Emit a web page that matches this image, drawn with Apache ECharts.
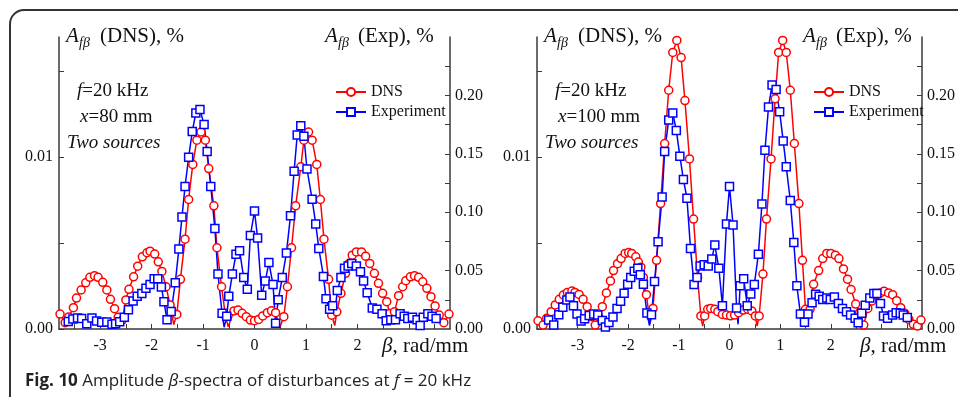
<!DOCTYPE html>
<html>
<head>
<meta charset="utf-8">
<script src="https://cdn.jsdelivr.net/npm/echarts@6/dist/echarts.min.js"></script>
<style>
html, body { margin: 0; padding: 0; background: #fff; }
#block1 { width: 958px; height: 397px; }
</style>
</head>
<body>
<div id="block1"></div>
<script>
// beta, rad/mm  and amplitudes, %  (x = 80 mm)
var dns80B = [-3.78,-3.68,-3.61,-3.52,-3.46,-3.37,-3.28,-3.20,-3.11,-3.04,-2.95,-2.87,-2.80,-2.72,-2.65,-2.57,-2.50,-2.44,-2.35,-2.27,-2.18,-2.09,-2.03,-1.94,-1.87,-1.80,-1.72,-1.64,-1.57,-1.51,-1.44,-1.35,-1.28,-1.20,-1.12,-1.04,-0.955,-0.89,-0.79,-0.73,-0.64,-0.565,-0.51,-0.40,-0.32,-0.24,-0.16,-0.08,0.00,0.08,0.16,0.25,0.33,0.41,0.49,0.57,0.64,0.72,0.80,0.90,0.96,1.05,1.12,1.21,1.28,1.35,1.44,1.50,1.56,1.60,1.68,1.77,1.84,1.90,1.98,2.08,2.16,2.24,2.33,2.41,2.49,2.57,2.63,2.72,2.80,2.88,2.94,3.03,3.11,3.19,3.27,3.35,3.43,3.51,3.59,3.68,3.78];
var dns80 = [0.00087,0.00037,0.00070,0.00124,0.00180,0.00227,0.00269,0.00301,0.00310,0.00301,0.00272,0.00227,0.00173,0.00118,0.00068,0.00052,0.00169,0.00231,0.00304,0.00366,0.00420,0.00444,0.00453,0.00436,0.00391,0.00335,0.00246,0.00140,0.00025,0.00085,0.00289,0.00523,0.00754,0.00958,0.01099,0.01147,0.01099,0.00934,0.00717,0.00473,0.00246,0.00076,0.00013,0.00105,0.00110,0.00091,0.00072,0.00052,0.00048,0.00056,0.00076,0.00095,0.00106,0.00095,0.00008,0.00072,0.00246,0.00473,0.00717,0.00944,0.01099,0.01147,0.01099,0.00958,0.00754,0.00523,0.00289,0.00080,0.00020,0.00100,0.00208,0.00324,0.00382,0.00430,0.00449,0.00449,0.00424,0.00382,0.00324,0.00266,0.00208,0.00159,0.00090,0.00100,0.00194,0.00246,0.00281,0.00304,0.00310,0.00301,0.00275,0.00237,0.00188,0.00134,0.00081,0.00037,0.00087];
var dns80Tips = [-1.57, -0.51, 0.49, 1.56];

var exp80B = [-3.62,-3.53,-3.44,-3.36,-3.26,-3.16,-3.07,-2.97,-2.87,-2.77,-2.70,-2.62,-2.53,-2.45,-2.36,-2.28,-2.19,-2.11,-2.03,-1.95,-1.88,-1.81,-1.76,-1.70,-1.62,-1.54,-1.47,-1.41,-1.35,-1.28,-1.21,-1.14,-1.06,-0.98,-0.92,-0.85,-0.77,-0.71,-0.63,-0.59,-0.54,-0.50,-0.43,-0.36,-0.29,-0.21,-0.14,-0.08,0.00,0.06,0.14,0.21,0.28,0.36,0.41,0.46,0.54,0.62,0.70,0.77,0.83,0.90,0.96,1.02,1.12,1.19,1.25,1.34,1.39,1.46,1.52,1.55,1.61,1.68,1.75,1.82,1.89,1.98,2.06,2.12,2.19,2.29,2.38,2.48,2.56,2.65,2.74,2.83,2.91,2.98,3.07,3.16,3.22,3.28,3.37,3.45,3.53];
var exp80 = [0.0065,0.0085,0.0095,0.0090,0.0045,0.0095,0.0068,0.0058,0.0060,0.0040,0.0046,0.0062,0.0100,0.0165,0.0240,0.0280,0.0305,0.0348,0.0380,0.0431,0.0431,0.0360,0.0233,0.0080,0.0150,0.0395,0.0686,0.0958,0.1220,0.1470,0.1690,0.1850,0.1880,0.1750,0.1520,0.1220,0.0861,0.0470,0.0134,0.0015,0.0110,0.0280,0.0470,0.0640,0.0670,0.0440,0.0340,0.0800,0.1010,0.0780,0.0290,0.0410,0.0570,0.0380,0.0050,0.0250,0.0440,0.0650,0.0970,0.1350,0.1660,0.1740,0.1650,0.1370,0.1110,0.0900,0.0690,0.0450,0.0260,0.0170,0.0200,0.0090,0.0330,0.0440,0.0520,0.0540,0.0560,0.0540,0.0490,0.0410,0.0310,0.0180,0.0170,0.0130,0.0070,0.0080,0.0080,0.0130,0.0110,0.0090,0.0100,0.0080,0.0030,0.0100,0.0130,0.0110,0.0090];
var exp80Tips = [-0.59, 1.55];

// x = 100 mm
var dns100B = [-3.78,-3.68,-3.61,-3.52,-3.44,-3.36,-3.28,-3.20,-3.11,-3.05,-2.97,-2.89,-2.81,-2.72,-2.65,-2.58,-2.51,-2.43,-2.35,-2.29,-2.21,-2.14,-2.06,-1.99,-1.93,-1.85,-1.80,-1.75,-1.70,-1.64,-1.57,-1.51,-1.44,-1.36,-1.28,-1.20,-1.12,-1.04,-0.955,-0.88,-0.79,-0.71,-0.63,-0.565,-0.53,-0.49,-0.43,-0.37,-0.29,-0.23,-0.14,-0.06,0.02,0.10,0.18,0.27,0.36,0.44,0.51,0.545,0.585,0.66,0.73,0.82,0.90,0.97,1.05,1.12,1.20,1.28,1.37,1.44,1.50,1.545,1.59,1.66,1.76,1.84,1.92,2.00,2.09,2.16,2.25,2.33,2.40,2.49,2.57,2.65,2.73,2.81,2.89,2.98,3.05,3.14,3.22,3.30,3.38,3.46,3.54,3.63,3.71,3.78];
var dns100 = [0.00048,0.00023,0.00062,0.00101,0.00140,0.00173,0.00198,0.00213,0.00221,0.00213,0.00201,0.00173,0.00130,0.00072,0.00023,0.00070,0.00130,0.00210,0.00280,0.00340,0.00380,0.00410,0.00440,0.00445,0.00440,0.00420,0.00390,0.00360,0.00300,0.00200,0.00030,0.00120,0.00400,0.00730,0.01080,0.01390,0.01610,0.01680,0.01580,0.01330,0.00990,0.00640,0.00300,0.00076,0.00017,0.00076,0.00115,0.00120,0.00115,0.00101,0.00085,0.00081,0.00077,0.00081,0.00095,0.00110,0.00115,0.00105,0.00076,0.00017,0.00076,0.00320,0.00640,0.00990,0.01340,0.01610,0.01680,0.01610,0.01390,0.01080,0.00730,0.00400,0.00115,0.00030,0.00115,0.00260,0.00340,0.00410,0.00440,0.00440,0.00430,0.00410,0.00350,0.00290,0.00230,0.00145,0.00095,0.00023,0.00120,0.00163,0.00200,0.00210,0.00220,0.00210,0.00200,0.00165,0.00124,0.00091,0.00056,0.00027,0.00017,0.00052];
var dns100Tips = [-1.57, -0.53, 0.545, 1.545];

var exp100B = [-3.57,-3.47,-3.37,-3.29,-3.21,-3.15,-3.08,-3.01,-2.93,-2.86,-2.77,-2.68,-2.60,-2.51,-2.45,-2.38,-2.30,-2.22,-2.15,-2.08,-2.01,-1.95,-1.88,-1.81,-1.76,-1.70,-1.63,-1.58,-1.54,-1.48,-1.41,-1.33,-1.28,-1.20,-1.12,-1.05,-0.98,-0.91,-0.84,-0.77,-0.70,-0.64,-0.58,-0.50,-0.42,-0.35,-0.29,-0.21,-0.14,-0.06,0.00,0.07,0.14,0.17,0.21,0.28,0.35,0.42,0.49,0.57,0.64,0.70,0.77,0.84,0.92,0.99,1.06,1.12,1.20,1.27,1.33,1.40,1.48,1.55,1.63,1.70,1.77,1.84,1.92,1.99,2.07,2.15,2.23,2.31,2.39,2.48,2.54,2.61,2.68,2.77,2.85,2.91,2.98,3.04,3.12,3.22,3.29,3.37,3.43,3.51];
var exp100 = [0.0077,0.0034,0.0123,0.0187,0.0249,0.0275,0.0200,0.0128,0.0068,0.0087,0.0115,0.0128,0.0119,0.0072,0.0017,0.0055,0.0102,0.0176,0.0238,0.0306,0.0383,0.0440,0.0495,0.0520,0.0465,0.0383,0.0136,0.0030,0.0123,0.0406,0.0748,0.1130,0.1520,0.1790,0.1850,0.1700,0.1480,0.1280,0.1120,0.0690,0.0380,0.0440,0.0540,0.0550,0.0540,0.0600,0.0720,0.0520,0.0200,0.0900,0.1220,0.0890,0.0180,0.0040,0.0370,0.0430,0.0200,0.0300,0.0380,0.0640,0.1070,0.1530,0.1900,0.2090,0.2050,0.1860,0.1610,0.1390,0.1100,0.0740,0.0370,0.0128,0.0057,0.0128,0.0224,0.0298,0.0281,0.0253,0.0266,0.0253,0.0275,0.0219,0.0176,0.0147,0.0119,0.0091,0.0054,0.0134,0.0204,0.0266,0.0304,0.0304,0.0219,0.0111,0.0091,0.0119,0.0139,0.0134,0.0119,0.0099];
var exp100Tips = [-1.58, 0.17];

// ticks and labels
var xTicks = [-3.5,-3,-2.5,-2,-1.5,-1,-0.5,0,0.5,1,1.5,2,2.5,3,3.5];
var xLabels = [-3,-2,-1,0,1,2];
var dnsTicks = [0,0.005,0.01,0.015];
var dnsLabels = [0,0.01];
var expTicks = [0.025,0.05,0.075,0.1,0.125,0.15,0.175,0.2,0.225];
var expLabels = [0,0.05,0.1,0.15,0.2];

var SERIF = '"Liberation Serif", "Times New Roman", serif';
var SANS = '"Open Sans", "Noto Sans", sans-serif';
var AXC = '#3a3a3a';

function pts(bs, vs, tips) {
  return bs.map(function (b, i) {
    var item = { value: [b, vs[i]] };
    if (tips.indexOf(b) >= 0) item.symbol = 'none';
    return item;
  });
}

function xAxisFor(gi) {
  return {
    type: 'value', gridIndex: gi, min: -3.8, max: 3.8,
    axisLine: { onZero: false, lineStyle: { color: AXC, width: 1.5 } },
    axisTick: { inside: true, length: 5, customValues: xTicks, lineStyle: { color: AXC } },
    axisLabel: { customValues: xLabels, margin: 9, color: '#111', fontFamily: SERIF, fontSize: 16,
      formatter: function (v) { return String(v); } },
    splitLine: { show: false }
  };
}

function yDns(gi) {
  return {
    type: 'value', gridIndex: gi, position: 'left', min: 0, max: 0.017,
    axisLine: { show: true, onZero: false, lineStyle: { color: AXC, width: 1.5 } },
    axisTick: { show: true, inside: true, length: 5, customValues: dnsTicks, lineStyle: { color: AXC } },
    axisLabel: { customValues: dnsLabels, margin: 6, color: '#111', fontFamily: SERIF, fontSize: 16,
      formatter: function (v) { return v.toFixed(2); } },
    splitLine: { show: false }
  };
}

function yExp(gi) {
  return {
    type: 'value', gridIndex: gi, position: 'right', min: 0, max: 0.25,
    axisLine: { show: true, onZero: false, lineStyle: { color: AXC, width: 1.5 } },
    axisTick: { show: true, inside: true, length: 5, customValues: expTicks, lineStyle: { color: AXC } },
    axisLabel: { customValues: expLabels, margin: 5, color: '#111', fontFamily: SERIF, fontSize: 16,
      formatter: function (v) { return v.toFixed(2); } },
    splitLine: { show: false }
  };
}

function dnsSeries(xi, yi, data) {
  return {
    name: 'DNS', type: 'line', xAxisIndex: xi, yAxisIndex: yi, data: data,
    symbol: 'circle', symbolSize: 8,
    lineStyle: { color: '#ff0000', width: 1.5 },
    itemStyle: { color: '#fff', borderColor: '#ff0000', borderWidth: 1.5 }
  };
}

function expSeries(xi, yi, data) {
  return {
    name: 'Experiment', type: 'line', xAxisIndex: xi, yAxisIndex: yi, data: data,
    symbol: 'rect', symbolSize: 8,
    lineStyle: { color: '#0000ff', width: 1.5 },
    itemStyle: { color: '#fff', borderColor: '#0000ff', borderWidth: 1.5 }
  };
}

function txt(x, y, text, size, italic) {
  return {
    type: 'text', x: x, y: y, silent: true,
    style: {
      text: text, fill: '#111',
      font: (italic ? 'italic ' : '') + size + 'px ' + SERIF,
      align: 'left', textAlign: 'left', verticalAlign: 'middle', textVerticalAlign: 'middle',
      rich: {
        i: { font: 'italic ' + size + 'px ' + SERIF, fill: '#111' },
        n: { font: size + 'px ' + SERIF, fill: '#111' }
      }
    }
  };
}

function panelTexts(dx, xmm) {
  return [
    txt(dx + 66, 36, 'A', 21, true),
    txt(dx + 79, 43, 'fβ', 14, true),
    txt(dx + 100, 36, '(DNS), %', 21),
    txt(dx + 325, 36, 'A', 21, true),
    txt(dx + 338, 43, 'fβ', 14, true),
    txt(dx + 358, 36, '(Exp), %', 21),
    txt(dx + 77, 91, '{i|f}{n|=20 kHz}', 19),
    txt(dx + 80, 117, '{i|x}{n|=' + xmm + ' mm}', 19),
    txt(dx + 67, 143, 'Two sources', 19, true),
    txt(dx + 382, 346, '{i|β}{n|, rad/mm}', 21)
  ];
}

var myChart1 = echarts.init(document.getElementById('block1'));

var option1 = {
  animation: false,
  backgroundColor: '#fff',
  grid: [
    { left: 59, top: 37, width: 391, height: 292 },
    { left: 537, top: 37, width: 391, height: 292 }
  ],
  xAxis: [xAxisFor(0), xAxisFor(1)],
  yAxis: [yDns(0), yExp(0), yDns(1), yExp(1)],
  legend: [
    { left: 330, top: 79, orient: 'vertical', itemWidth: 30, itemHeight: 10, itemGap: 4,
      data: ['DNS', 'Experiment'], selectedMode: false,
      textStyle: { fontFamily: SERIF, fontSize: 16, color: '#111' } },
    { left: 808, top: 79, orient: 'vertical', itemWidth: 30, itemHeight: 10, itemGap: 4,
      data: ['DNS', 'Experiment'], selectedMode: false,
      textStyle: { fontFamily: SERIF, fontSize: 16, color: '#111' } }
  ],
  series: [
    dnsSeries(0, 0, pts(dns80B, dns80, dns80Tips)),
    expSeries(0, 1, pts(exp80B, exp80, exp80Tips)),
    dnsSeries(1, 2, pts(dns100B, dns100, dns100Tips)),
    expSeries(1, 3, pts(exp100B, exp100, exp100Tips))
  ],
  graphic: [
    { type: 'rect', silent: true, shape: { x: 10, y: 10, width: 1000, height: 430, r: 14 },
      style: { fill: 'none', stroke: '#333', lineWidth: 2 } },
    {
      type: 'text', x: 25, y: 381, silent: true,
      style: {
        text: '{b|Fig. 10}{n| Amplitude }{i|β}{n|-spectra of disturbances at }{i|f}{n| = 20 kHz}',
        fill: '#222', font: '17px ' + SANS,
        align: 'left', textAlign: 'left', verticalAlign: 'middle', textVerticalAlign: 'middle',
        rich: {
          b: { font: 'bold 17px ' + SANS, fill: '#222' },
          n: { font: '17px ' + SANS, fill: '#222' },
          i: { font: 'italic 17px ' + SANS, fill: '#222' }
        }
      }
    }
  ].concat(panelTexts(0, '80')).concat(panelTexts(478, '100'))
};

myChart1.setOption(option1);
</script>
</body>
</html>
